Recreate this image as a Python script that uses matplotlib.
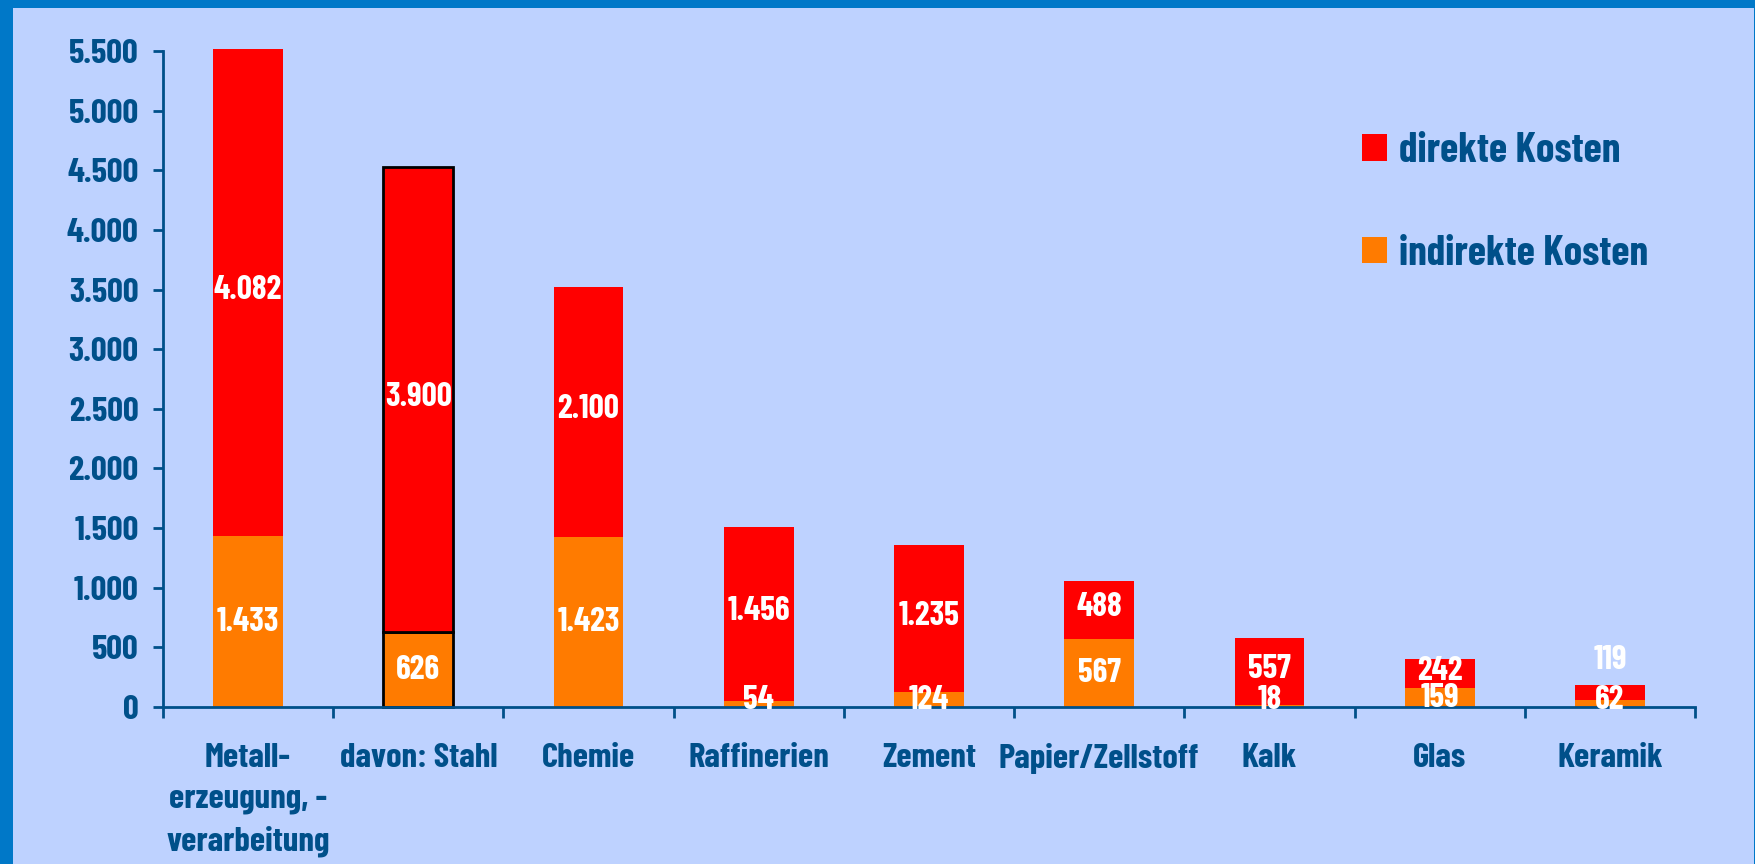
import matplotlib
matplotlib.use("Agg")
import matplotlib.pyplot as plt
from matplotlib.patches import Patch, Rectangle
import numpy as np

# Kosten je Branche (Mio. EUR)
branchen = ["Metall-\nerzeugung, -\nverarbeitung", "davon: Stahl", "Chemie", "Raffinerien",
            "Zement", "Papier/Zellstoff", "Kalk", "Glas", "Keramik"]
indirekt = [1433, 626, 1423, 54, 124, 567, 18, 159, 62]
direkt = [4082, 3900, 2100, 1456, 1235, 488, 557, 242, 119]
y_ticks = [0, 500, 1000, 1500, 2000, 2500, 3000, 3500, 4000, 4500, 5000, 5500]

RAHMEN = "#0078C8"
HINTERGRUND = "#BED2FF"
TEXT = "#00508A"
ROT = "#FF0000"
ORANGE = "#FF7B00"

plt.rcParams["font.family"] = ["Barlow Condensed", "DejaVu Sans"]
plt.rcParams["font.weight"] = "bold"

fig = plt.figure(figsize=(17.56, 8.64), dpi=100)
fig.patch.set_facecolor(RAHMEN)
# heller Innenbereich, blauer Rand links/oben/rechts
innen = Rectangle((13 / 1756, 0), (1754 - 13) / 1756, 1 - 8 / 864,
                  transform=fig.transFigure, facecolor=HINTERGRUND, edgecolor="none")
innen.set_zorder(-10)
fig.add_artist(innen)

ax = fig.add_axes([163 / 1756, 1 - 707 / 864, (1695 - 163) / 1756, (707 - 51) / 864])
ax.set_facecolor("none")


def fmt(v):
    return f"{v:,}".replace(",", ".")


x = np.arange(len(branchen))
w = 0.41
for i in range(len(branchen)):
    ec = "black" if i == 1 else "none"
    lw = 2 if i == 1 else 0
    ax.bar(x[i], indirekt[i], w, color=ORANGE, edgecolor=ec, linewidth=lw, clip_on=False, zorder=2)
    ax.bar(x[i], direkt[i], w, bottom=indirekt[i], color=ROT, edgecolor=ec, linewidth=lw,
           clip_on=False, zorder=2)

    # Beschriftungen
    y_ind = max(indirekt[i] / 2, 60)
    ax.text(x[i], y_ind, fmt(indirekt[i]), color="white", fontsize=24,
            ha="center", va="center", zorder=3, clip_on=False)
    if direkt[i] < 150:
        y_dir = indirekt[i] + direkt[i] + 210
    else:
        y_dir = indirekt[i] + direkt[i] / 2 + 25
    ax.text(x[i], y_dir, fmt(direkt[i]), color="white", fontsize=24,
            ha="center", va="center", zorder=3)

ax.set_xlim(-0.5, len(branchen) - 0.5)
ax.set_ylim(0, 5500)
ax.set_yticks(y_ticks)
ax.set_yticklabels([fmt(v) for v in y_ticks])
ax.set_xticks(np.arange(len(branchen) + 1) - 0.5)
ax.set_xticklabels([])
ax.set_xticks(x, minor=True)
ax.set_xticklabels(branchen, minor=True, linespacing=1.45, va="top")

for s in ["top", "right"]:
    ax.spines[s].set_visible(False)
for s in ["left", "bottom"]:
    ax.spines[s].set_color(TEXT)
    ax.spines[s].set_linewidth(2)

ax.tick_params(axis="y", colors=TEXT, labelsize=25, length=7.5, width=2, pad=10)
ax.tick_params(axis="x", which="major", colors=TEXT, length=8, width=2)
ax.tick_params(axis="x", which="minor", colors=TEXT, labelsize=25, length=0, pad=26)

handles = [Patch(facecolor=ROT, label="direkte Kosten"),
           Patch(facecolor=ORANGE, label="indirekte Kosten")]
leg = ax.legend(handles=handles, loc="upper left", bbox_to_anchor=(1362 / 1756, 1 - 132 / 864),
                bbox_transform=fig.transFigure, frameon=False, fontsize=30,
                handlelength=0.6, handleheight=0.6, handletextpad=0.3, labelspacing=1.55,
                borderaxespad=0, borderpad=0)
for t in leg.get_texts():
    t.set_color(TEXT)

fig.savefig("out.png", dpi=100, facecolor=fig.get_facecolor())
